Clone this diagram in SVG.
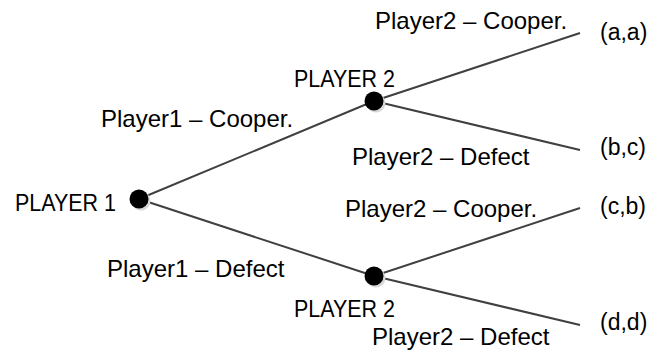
<svg xmlns="http://www.w3.org/2000/svg" width="666" height="353" viewBox="0 0 666 353">
<style>
.edge{stroke:#404040;stroke-width:2;fill:none}
.dot{fill:#000}
.shadow{fill:#d8d8d8}
.lbl{font-family:"Liberation Sans",Arial,sans-serif;font-size:24px;fill:#000}
.cap{font-family:"Liberation Sans",Arial,sans-serif;font-size:23.5px;fill:#000}
.pay{font-family:"Liberation Sans",Arial,sans-serif;font-size:23px;fill:#000}
</style>
<rect width="666" height="353" fill="#fff"/>
<g id="connectors">
<line class="edge" x1="139" y1="199" x2="374" y2="101"/>
<line class="edge" x1="139" y1="199" x2="374" y2="276"/>
<line class="edge" x1="374" y1="101" x2="580" y2="33"/>
<line class="edge" x1="374" y1="101" x2="580" y2="150"/>
<line class="edge" x1="374" y1="276" x2="580" y2="208"/>
<line class="edge" x1="374" y1="276" x2="580" y2="325"/>
<text class="lbl" x="101" y="127">Player1 – Cooper.</text>
<text class="lbl" x="107" y="277">Player1 – Defect</text>
<text class="lbl" x="375" y="29">Player2 – Cooper.</text>
<text class="lbl" x="352" y="165">Player2 – Defect</text>
<text class="lbl" x="345" y="217">Player2 – Cooper.</text>
<text class="lbl" x="372" y="345">Player2 – Defect</text>
</g>
<g id="player1">
<circle class="shadow" cx="141" cy="201" r="9.5"/>
<circle class="dot" cx="139" cy="199" r="9.5"/>
<text class="cap" x="15" y="211" textLength="101" lengthAdjust="spacingAndGlyphs">PLAYER 1</text>
</g>
<g id="player2-top">
<circle class="shadow" cx="376" cy="103" r="9.5"/>
<circle class="dot" cx="374" cy="101" r="9.5"/>
<text class="cap" x="294" y="87" textLength="101" lengthAdjust="spacingAndGlyphs">PLAYER 2</text>
</g>
<g id="player2-bottom">
<circle class="shadow" cx="376" cy="278" r="9.5"/>
<circle class="dot" cx="374" cy="276" r="9.5"/>
<text class="cap" x="294" y="317" textLength="101" lengthAdjust="spacingAndGlyphs">PLAYER 2</text>
</g>
<g id="outcome-aa"><text class="pay" x="600" y="40">(a,a)</text></g>
<g id="outcome-bc"><text class="pay" x="600" y="155">(b,c)</text></g>
<g id="outcome-cb"><text class="pay" x="600" y="214">(c,b)</text></g>
<g id="outcome-dd"><text class="pay" x="600" y="330">(d,d)</text></g>
</svg>
